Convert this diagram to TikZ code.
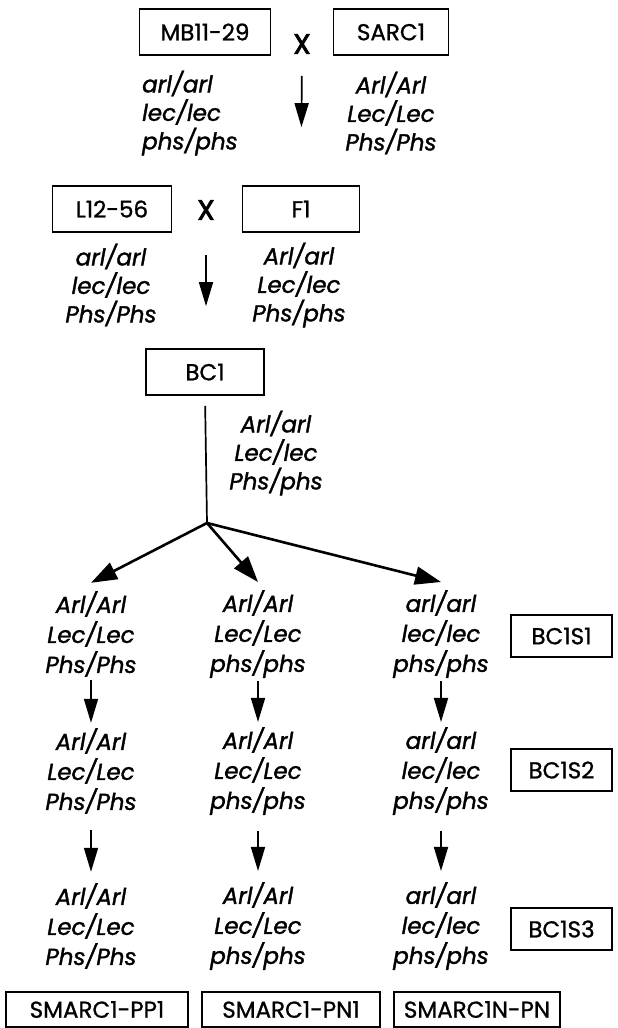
\documentclass[tikz,border=0pt]{standalone}
\usepackage{fontspec}
\setmainfont{Poppins}[UprightFeatures={FakeBold=1}, ItalicFeatures={FakeBold=1.5}]
\newfontfamily\crossfont{Poppins}[FakeBold=3]
\usetikzlibrary{arrows.meta}
\tikzstyle{box} = [rectangle, draw=black, line width=1.7pt, minimum height=46pt, inner sep=0pt, text centered, font=\fontsize{23}{26}\selectfont]
\tikzstyle{stage} = [box, minimum width=101pt, minimum height=42pt]
\tikzstyle{line} = [box, minimum height=35pt]
\tikzstyle{cross} = [inner sep=0pt, font=\crossfont\fontsize{28}{30}\selectfont]
\tikzstyle{genotop} = [align=center, inner sep=0pt, minimum height=80pt, font=\fontsize{23}{28.5}\selectfont\itshape]
\tikzstyle{geno} = [align=center, inner sep=0pt, minimum height=86pt, font=\fontsize{23}{30}\selectfont\itshape]
\tikzstyle{arrow} = [line width=1.7pt, -{Triangle[length=24pt,width=14pt]}]
\tikzstyle{split} = [line width=2.6pt, -{Triangle[length=26pt,width=18pt]}]

\begin{document}
\begin{tikzpicture}[x=1pt, y=-1pt]
    \useasboundingbox (0,0) rectangle (618,1028);

    % first cross
    \node (mb) [box, minimum width=131pt] at (205,32) {MB11-29};
    \node (cross1) [cross] at (302,44) {X};
    \node (sarc) [box, minimum width=115pt] at (391,32) {SARC1};
    \node (mbgeno) [genotop, align=left, anchor=west] at (142,113) {arl/arl\\lec/lec\\phs/phs};
    \node (sarcgeno) [genotop] at (391,113) {Arl/Arl\\Lec/Lec\\Phs/Phs};

    % second cross
    \node (l12) [box, minimum width=119pt] at (112,209) {L12-56};
    \node (cross2) [cross] at (206,210) {X};
    \node (f1) [box, minimum width=117pt] at (301,209) {F1};
    \node (l12geno) [genotop] at (111,285) {arl/arl\\lec/lec\\Phs/Phs};
    \node (f1geno) [genotop] at (299,285) {Arl/arl\\Lec/lec\\Phs/phs};

    % backcross
    \node (bc1) [box, minimum width=118pt] at (205,372) {BC1};
    \node (bc1geno) [genotop] at (276,453) {Arl/arl\\Lec/lec\\Phs/phs};
    \coordinate (branch) at (207,523);

    \draw [arrow, shorten <=22pt, shorten >=58pt] (cross1.south) -- (f1.north);
    \draw [arrow, shorten <=35pt, shorten >=42pt] (cross2.south) -- (cross2.south |- bc1.north);
    \draw [line width=1.7pt, shorten <=10pt] (bc1.south) -- (branch);

    % selfed lines
    \node (pp1) [geno] at (91,634) {Arl/Arl\\Lec/Lec\\Phs/Phs};
    \node (pn1) [geno] at (258,634) {Arl/Arl\\Lec/Lec\\phs/phs};
    \node (npn) [geno] at (441,634) {arl/arl\\lec/lec\\phs/phs};
    \node (pp2) [geno] at (91,771) {Arl/Arl\\Lec/Lec\\Phs/Phs};
    \node (pn2) [geno] at (258,771) {Arl/Arl\\Lec/Lec\\phs/phs};
    \node (npn2) [geno] at (441,771) {arl/arl\\lec/lec\\phs/phs};
    \node (pp3) [geno] at (91,926) {Arl/Arl\\Lec/Lec\\Phs/Phs};
    \node (pn3) [geno] at (258,926) {Arl/Arl\\Lec/Lec\\phs/phs};
    \node (npn3) [geno] at (441,926) {arl/arl\\lec/lec\\phs/phs};

    \node (s1) [stage] at (561.5,636) {BC1S1};
    \node (s2) [stage] at (561.5,770) {BC1S2};
    \node (s3) [stage] at (561.5,929) {BC1S3};

    \draw [split] (branch) -- ([yshift=8pt]pp1.north);
    \draw [split] (branch) -- ([yshift=8pt]pn1.north);
    \draw [split] (branch) -- ([yshift=8pt]npn.north);

    \foreach \a/\b in {pp1/pp2, pn1/pn2, npn/npn2}
        \draw [arrow, shorten <=3pt, shorten >=5pt] (\a.south) -- (\b.north);
    \foreach \a/\b in {pp2/pp3, pn2/pn3, npn2/npn3}
        \draw [arrow, shorten <=16pt, shorten >=11pt] (\a.south) -- (\b.north);

    % line names
    \node (smpp) [line, minimum width=182pt] at (97,1009.5) {SMARC1-PP1};
    \node (smpn) [line, minimum width=178pt] at (291,1009.5) {SMARC1-PN1};
    \node (smnpn) [line, minimum width=166pt] at (477,1009.5) {SMARC1N-PN};
\end{tikzpicture}
\end{document}
